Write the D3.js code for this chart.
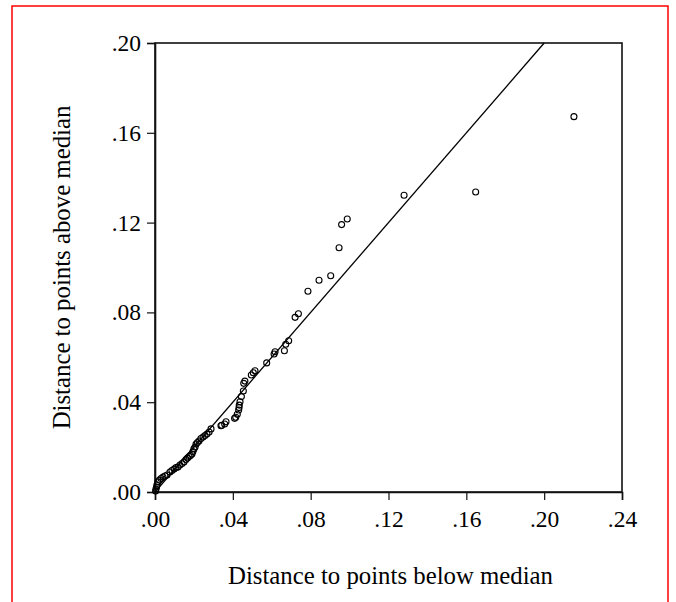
<!DOCTYPE html>
<html>
<head>
<meta charset="utf-8">
<script src="https://cdn.jsdelivr.net/npm/d3@7"></script>
<style>
html,body{margin:0;padding:0;background:#fff;}
svg{display:block;}
text{font-family:"Liberation Serif","Times New Roman",serif;fill:#000;}
</style>
</head>
<body>
<svg id="chart" width="676" height="602"></svg>
<script>
// Distance to points below median (x) and above median (y)
const belowMedian = [
 0.0003,0.0005,0.0008,0.0010,0.0015,0.0023,0.0031,0.0041,0.0051,0.0062,
 0.0077,0.0087,0.0098,0.0108,0.0118,0.0128,0.0139,0.0149,0.0159,0.0167,
 0.0175,0.0182,0.0190,0.0195,0.0200,0.0206,0.0211,0.0218,0.0226,0.0236,
 0.0247,0.0257,0.0267,0.0278,0.0288,0.0339,0.0343,0.0358,0.0365,0.0409,
 0.0415,0.0423,0.0430,0.0432,0.0433,0.0437,0.0444,0.0454,0.0456,0.0462,
 0.0495,0.0505,0.0514,0.0574,0.0612,0.0617,0.0665,0.0672,0.0687,0.0720,
 0.0737,0.0786,0.0843,0.0903,0.0946,0.0959,0.0988,0.1280,0.1648,0.2153
];
const aboveMedian = [
 0.0004,0.0013,0.0022,0.0031,0.0045,0.0053,0.0060,0.0067,0.0071,0.0076,
 0.0089,0.0096,0.0102,0.0109,0.0111,0.0120,0.0127,0.0134,0.0145,0.0151,
 0.0158,0.0163,0.0169,0.0180,0.0192,0.0200,0.0214,0.0220,0.0227,0.0238,
 0.0245,0.0252,0.0258,0.0267,0.0281,0.0295,0.0297,0.0303,0.0313,0.0328,
 0.0333,0.0346,0.0365,0.0376,0.0387,0.0402,0.0425,0.0450,0.0484,0.0494,
 0.0521,0.0531,0.0540,0.0575,0.0615,0.0625,0.0629,0.0658,0.0674,0.0778,
 0.0794,0.0894,0.0943,0.0963,0.1088,0.1191,0.1216,0.1322,0.1336,0.1672
];
const xTicks = [0,0.04,0.08,0.12,0.16,0.20,0.24];
const yTicks = [0,0.04,0.08,0.12,0.16,0.20];
const refLine = [0,0.20];

const svg = d3.select("#chart");
const L=155,R=622,T=43,B=492;
const x = d3.scaleLinear().domain([0,0.24]).range([L,R]);
const y = d3.scaleLinear().domain([0,0.20]).range([B,T]);
const fmt = d => d3.format(".2f")(d).replace(/^0/,"");

// red outer frame
svg.append("rect").attr("x",12).attr("y",6).attr("width",656).attr("height",620)
  .attr("fill","none").attr("stroke","#ff0000").attr("stroke-width",1.5);

// plot frame
svg.append("rect").attr("x",L).attr("y",T).attr("width",R-L).attr("height",B-T)
  .attr("fill","none").attr("stroke","#111").attr("stroke-width",1.6);

const xAxis = svg.append("g").attr("transform",`translate(0,${B})`)
  .call(d3.axisBottom(x).tickValues(xTicks).tickFormat(fmt).tickSize(8).tickPadding(10));
const yAxis = svg.append("g").attr("transform",`translate(${L},0)`)
  .call(d3.axisLeft(y).tickValues(yTicks).tickFormat(fmt).tickSize(8).tickPadding(6));
[xAxis,yAxis].forEach(g=>{
  g.select(".domain").attr("stroke","#111").attr("stroke-width",1.6);
  g.selectAll(".tick line").attr("stroke","#111").attr("stroke-width",1.2);
  g.selectAll("text").style("font-family",'"Liberation Serif",serif').style("font-size","23.5px").attr("fill","#000");
});

// reference line y = x
svg.append("line")
  .attr("x1",x(refLine[0])).attr("y1",y(refLine[0]))
  .attr("x2",x(refLine[1])).attr("y2",y(refLine[1]))
  .attr("stroke","#000").attr("stroke-width",1.3);

// points
svg.append("g").selectAll("circle").data(belowMedian.map((v,i)=>[v,aboveMedian[i]]))
  .join("circle")
  .attr("cx",d=>x(d[0])).attr("cy",d=>y(d[1])).attr("r",3)
  .attr("fill","none").attr("stroke","#000").attr("stroke-width",1.1);

// axis titles
svg.append("text").attr("x",(L+R)/2+2).attr("y",584).attr("text-anchor","middle")
  .style("font-size","24.8px").text("Distance to points below median");
svg.append("text").attr("transform",`translate(70,${(T+B)/2}) rotate(-90)`)
  .attr("text-anchor","middle").style("font-size","24.8px").text("Distance to points above median");
</script>
</body>
</html>
